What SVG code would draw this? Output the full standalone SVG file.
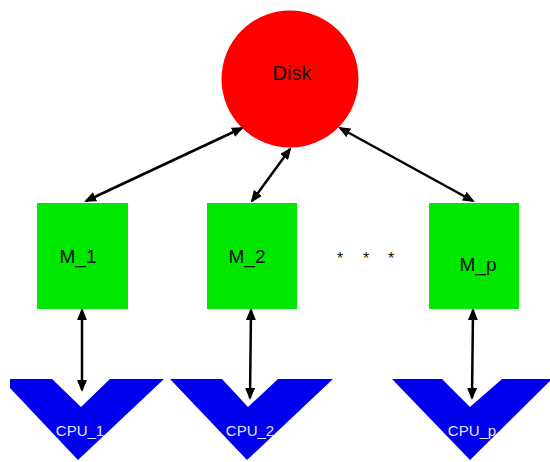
<svg xmlns="http://www.w3.org/2000/svg" width="550" height="462" viewBox="0 0 550 462">
  <defs>
    <marker id="ah" viewBox="0 0 12 10" refX="10" refY="5" markerWidth="12" markerHeight="10" markerUnits="userSpaceOnUse" orient="auto-start-reverse">
      <path d="M0,0 L12,5 L0,10 Z" fill="#000"/>
    </marker>
    <style>
      .lbl { font-family: "Liberation Sans", Arial, sans-serif; text-anchor: middle; }
      .mem { fill: #00e800; }
      .cpu { fill: #0000ee; }
      .con { stroke: #000; stroke-width: 2.5; fill: none; marker-start: url(#ah); marker-end: url(#ah); }
    </style>
  </defs>
  <rect width="550" height="462" fill="#fff"/>

  <g id="disk">
    <circle cx="290" cy="79" r="68.5" fill="#ff0000"/>
    <text class="lbl" x="292" y="80" font-size="20" fill="#111">Disk</text>
  </g>

  <g id="m1">
    <rect class="mem" x="37" y="203" width="91" height="106"/>
    <text class="lbl" x="78" y="263" font-size="19" fill="#111">M_1</text>
  </g>
  <g id="m2">
    <rect class="mem" x="207" y="203" width="90" height="106"/>
    <text class="lbl" x="247" y="263" font-size="19" fill="#111">M_2</text>
  </g>
  <g id="mp">
    <rect class="mem" x="429" y="203" width="90" height="106"/>
    <text class="lbl" x="478" y="271" font-size="19" fill="#111">M_p</text>
  </g>

  <g id="dots">
    <text class="lbl" x="340 366 391" y="264" font-size="16" fill="#111">***</text>
  </g>

  <g id="cpu1">
    <polygon class="cpu" points="10,379 52,379 81,407 110,379 164,379 78,460 10,388"/>
    <text class="lbl" x="80" y="436" font-size="15" fill="#e4e4ff">CPU_1</text>
  </g>
  <g id="cpu2">
    <polygon class="cpu" points="170,379 222,379 248,407 278,379 333,379 247,460"/>
    <text class="lbl" x="250" y="436" font-size="15" fill="#e4e4ff">CPU_2</text>
  </g>
  <g id="cpup">
    <polygon class="cpu" points="392,379 442,379 470,407 502,379 552,379 470,460"/>
    <text class="lbl" x="472" y="436" font-size="15" fill="#e4e4ff">CPU_p</text>
  </g>

  <g id="connectors">
    <line class="con" x1="242" y1="128" x2="86" y2="201"/>
    <line class="con" x1="290" y1="149" x2="252" y2="201"/>
    <line class="con" x1="340" y1="128" x2="473" y2="201"/>
    <line class="con" x1="82" y1="310" x2="82" y2="390"/>
    <line class="con" x1="251" y1="310" x2="250" y2="398"/>
    <line class="con" x1="473" y1="310" x2="472" y2="398"/>
  </g>
</svg>
